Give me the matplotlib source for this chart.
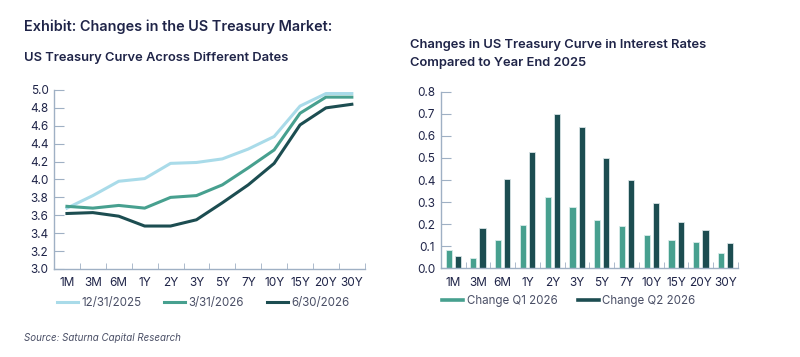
import numpy as np
import matplotlib
matplotlib.use("Agg")
import matplotlib.pyplot as plt
from matplotlib.lines import Line2D

plt.rcParams['font.family'] = ['Inter', 'DejaVu Sans']

# data
tenors = ['1M', '3M', '6M', '1Y', '2Y', '3Y', '5Y', '7Y', '10Y', '15Y', '20Y', '30Y']
curve_dec25 = [3.68, 3.82, 3.98, 4.01, 4.18, 4.19, 4.23, 4.34, 4.48, 4.82, 4.96, 4.96]
curve_mar26 = [3.70, 3.68, 3.71, 3.68, 3.80, 3.82, 3.94, 4.13, 4.33, 4.74, 4.92, 4.92]
curve_jun26 = [3.62, 3.63, 3.59, 3.48, 3.48, 3.55, 3.74, 3.94, 4.18, 4.61, 4.80, 4.84]
curve_labels = ['12/31/2025', '3/31/2026', '6/30/2026']

change_q1 = [0.083, 0.048, 0.130, 0.197, 0.323, 0.276, 0.218, 0.192, 0.152, 0.127, 0.117, 0.070]
change_q2 = [0.055, 0.182, 0.403, 0.527, 0.700, 0.638, 0.502, 0.398, 0.297, 0.212, 0.173, 0.114]
change_labels = ['Change Q1 2026', 'Change Q2 2026']

navy = '#1f2448'
spine_c = '#9fb0c4'
light = '#a9dbe9'
mid = '#47a08f'
dark = '#1c4d51'

fig = plt.figure(figsize=(8, 3.57), dpi=100)
fig.patch.set_facecolor('white')

def style_axes(ax):
    for s in ['top', 'right']:
        ax.spines[s].set_visible(False)
    for s in ['left', 'bottom']:
        ax.spines[s].set_color(spine_c)
        ax.spines[s].set_linewidth(1.0)
    x = np.arange(len(tenors))
    ax.set_xlim(-0.5, len(tenors) - 0.5)
    ax.set_xticks(x)
    ax.set_xticklabels(tenors)
    ax.set_xticks(np.arange(len(tenors) + 1) - 0.5, minor=True)
    ax.tick_params(axis='x', which='major', length=0, pad=6, labelsize=8.5, labelcolor=navy)
    ax.tick_params(axis='x', which='minor', direction='in', length=4, color=spine_c)
    ax.tick_params(axis='y', direction='in', length=7, color=spine_c, labelsize=8.5,
                   labelcolor=navy, pad=4)

leg_kw = dict(frameon=False, fontsize=8.3, handlelength=1.8, handletextpad=0.3,
              labelcolor='#4a4f66', borderaxespad=0, borderpad=0)

# left: curves
ax1 = fig.add_axes([0.0675, 0.2465, 0.3885, 0.5015])
x = np.arange(len(tenors))
ax1.plot(x, curve_dec25, color=light, lw=2.2, label=curve_labels[0])
ax1.plot(x, curve_mar26, color=mid, lw=2.2, label=curve_labels[1])
ax1.plot(x, curve_jun26, color=dark, lw=2.2, label=curve_labels[2])
ax1.set_ylim(3.0, 5.0)
ax1.set_yticks(np.arange(3.0, 5.01, 0.2))
ax1.set_yticklabels([f'{v:.1f}' for v in np.arange(3.0, 5.01, 0.2)])
style_axes(ax1)
ax1.legend(loc='center left', bbox_to_anchor=(0.071, 0.151), bbox_transform=fig.transFigure,
           ncol=3, columnspacing=2.0, **leg_kw)

# right: bars
ax2 = fig.add_axes([0.551, 0.2485, 0.3715, 0.4945])
w = 0.25
ax2.bar(x - 0.185, change_q1, width=w, color=mid, edgecolor='#d8ecea', linewidth=0.6)
ax2.bar(x + 0.185, change_q2, width=w, color=dark, edgecolor='#d8e4e6', linewidth=0.6)
ax2.set_ylim(0, 0.8)
ax2.set_yticks(np.arange(0, 0.81, 0.1))
ax2.set_yticklabels([f'{v:.1f}' for v in np.arange(0, 0.81, 0.1)])
style_axes(ax2)
bar_handles = [Line2D([], [], color=mid, lw=2.6), Line2D([], [], color=dark, lw=2.6)]
ax2.legend(bar_handles, change_labels, loc='center left', bbox_to_anchor=(0.553, 0.157),
           bbox_transform=fig.transFigure, ncol=2, columnspacing=1.8, **leg_kw)

# titles
fig.text(0.03, 0.925, 'Exhibit: Changes in the US Treasury Market:', fontsize=10.4,
         fontweight='semibold', color=navy, va='center')
fig.text(0.03, 0.838, 'US Treasury Curve Across Different Dates', fontsize=9.3,
         fontweight='semibold', color=navy, va='center')
fig.text(0.513, 0.874, 'Changes in US Treasury Curve in Interest Rates', fontsize=9.3,
         fontweight='semibold', color=navy, va='center')
fig.text(0.513, 0.823, 'Compared to Year End 2025', fontsize=9.3,
         fontweight='semibold', color=navy, va='center')
fig.text(0.03, 0.052, 'Source: Saturna Capital Research', fontsize=7, style='italic',
         color='#4a4f66', va='center')

fig.savefig('out.png', dpi=100)
